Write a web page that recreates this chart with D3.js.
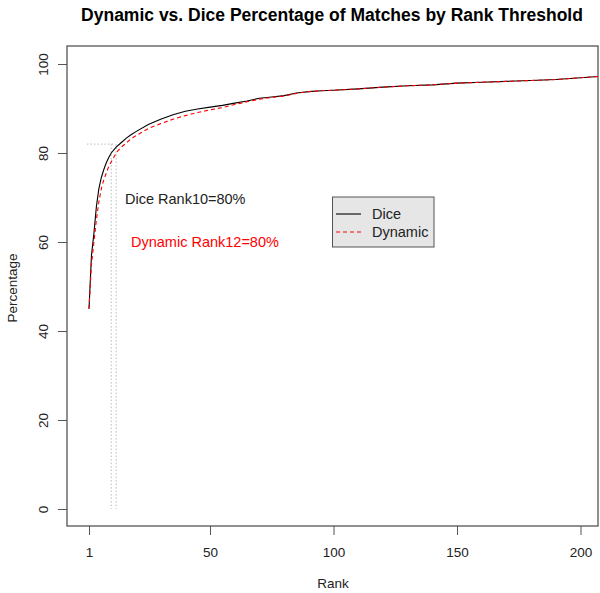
<!DOCTYPE html>
<html><head><meta charset="utf-8">
<script src="https://cdn.jsdelivr.net/npm/d3@7"></script>
<style>body{margin:0;background:#fff}svg{display:block;font-family:"Liberation Sans",Arial,sans-serif}</style>
</head><body><svg id="c" width="600" height="593"></svg>
<script>
const ranks = [1,2,3,4,5,6,7,8,9,10,12,14,16,18,20,25,30,35,40,45,50,55,60,65,70,75,80,85,90,95,100,110,120,130,140,150,160,170,180,190,200,210,220,223];
const dice = [45,57,62,68,72,74.5,76.3,77.8,79,80,81.3,82.3,83.3,84.1,84.8,86.4,87.6,88.6,89.4,89.9,90.3,90.7,91.2,91.7,92.3,92.6,92.9,93.5,93.8,94.0,94.1,94.4,94.8,95.1,95.3,95.7,95.9,96.1,96.3,96.5,96.9,97.3,97.6,97.7];
const dynamic = [45,55,60,65,69,72,74,75.5,77,78,80,81.3,82.2,83.2,83.9,85.5,86.6,87.6,88.4,89.1,89.7,90.2,90.9,91.5,92.1,92.5,92.8,93.4,93.8,94.0,94.1,94.4,94.8,95.1,95.3,95.7,95.9,96.1,96.3,96.5,96.9,97.3,97.6,97.7];
const xTicks = [1,50,100,150,200];
const yTicks = [0,20,40,60,80,100];
const seriesNames = ["Dice","Dynamic"];
const refY = 82, diceRank = 10, dynRank = 12;

const svg = d3.select("#c");
const x = d3.scaleLinear().domain([1,200]).range([89,580.5]);
const y = d3.scaleLinear().domain([0,100]).range([509,64]);
const L = 67, R = 598, T = 46, B = 526;

svg.append("defs").append("clipPath").attr("id","clip")
  .append("rect").attr("x",L).attr("y",T).attr("width",R-L).attr("height",B-T);

// title
svg.append("text").attr("x",332).attr("y",21).attr("text-anchor","middle")
  .attr("font-weight","bold").attr("font-size",17.5).attr("fill","#000")
  .text("Dynamic vs. Dice Percentage of Matches by Rank Threshold");

// axes
const xa = svg.append("g").attr("transform",`translate(0,${B})`)
  .call(d3.axisBottom(x).tickValues(xTicks).tickSize(9).tickPadding(12).tickSizeOuter(0));
xa.select(".domain").remove();
const ya = svg.append("g").attr("transform",`translate(${L},0)`)
  .call(d3.axisLeft(y).tickValues(yTicks).tickSize(9).tickSizeOuter(0));
ya.select(".domain").remove();
ya.selectAll(".tick text").attr("transform","rotate(-90)").attr("x",0).attr("y",-24)
  .attr("dy","0.35em").attr("text-anchor","middle");
[xa,ya].forEach(g=>{
  g.selectAll("line").attr("stroke","#555");
  g.selectAll("text").attr("font-size",13.5).attr("fill","#222").attr("font-family","Liberation Sans, Arial, sans-serif");
});

// box
svg.append("rect").attr("x",L).attr("y",T).attr("width",R-L).attr("height",B-T)
  .attr("fill","none").attr("stroke","#555").attr("stroke-width",1.3);

// axis titles
svg.append("text").attr("x",333).attr("y",588).attr("text-anchor","middle")
  .attr("font-size",13.5).attr("fill","#222").text("Rank");
svg.append("text").attr("transform","translate(17,288) rotate(-90)").attr("text-anchor","middle")
  .attr("font-size",13.5).attr("fill","#222").text("Percentage");

// reference dotted lines
const g = svg.append("g").attr("clip-path","url(#clip)");
g.append("line").attr("x1",x(0.2)).attr("x2",x(diceRank+0.8)).attr("y1",y(refY)).attr("y2",y(refY))
  .attr("stroke","#bbb").attr("stroke-dasharray","1.5,2");
[diceRank,dynRank].forEach(r=>{
  g.append("line").attr("x1",x(r)).attr("x2",x(r)).attr("y1",y(refY)).attr("y2",y(0))
    .attr("stroke","#bbb").attr("stroke-dasharray","1.5,2");
});

// lines
const line = vals => d3.line().x((d,i)=>x(ranks[i])).y(d=>y(d))(vals);
g.append("path").attr("d",line(dice)).attr("fill","none").attr("stroke","#000").attr("stroke-width",1.1);
g.append("path").attr("d",line(dynamic)).attr("fill","none").attr("stroke","#ff0000")
  .attr("stroke-width",1.1).attr("stroke-dasharray","4,3");

// annotations
svg.append("text").attr("x",125).attr("y",204).attr("font-size",14.5).attr("fill","#222")
  .text("Dice Rank10=80%");
svg.append("text").attr("x",131).attr("y",247).attr("font-size",14.5).attr("fill","#ff0000")
  .text("Dynamic Rank12=80%");

// legend
const lg = svg.append("g");
lg.append("rect").attr("x",332.5).attr("y",197).attr("width",101.5).attr("height",50)
  .attr("fill","#e6e6e6").attr("stroke","#555").attr("stroke-width",1);
const legColors = ["#000","#ff0000"], legDash = [null,"4,3"];
seriesNames.forEach((n,i)=>{
  const yy = 214 + i*18;
  lg.append("line").attr("x1",336).attr("x2",361).attr("y1",yy).attr("y2",yy)
    .attr("stroke",legColors[i]).attr("stroke-width",1.1).attr("stroke-dasharray",legDash[i]);
  lg.append("text").attr("x",372).attr("y",yy+5).attr("font-size",14.5).attr("fill","#222").text(n);
});
</script></body></html>
